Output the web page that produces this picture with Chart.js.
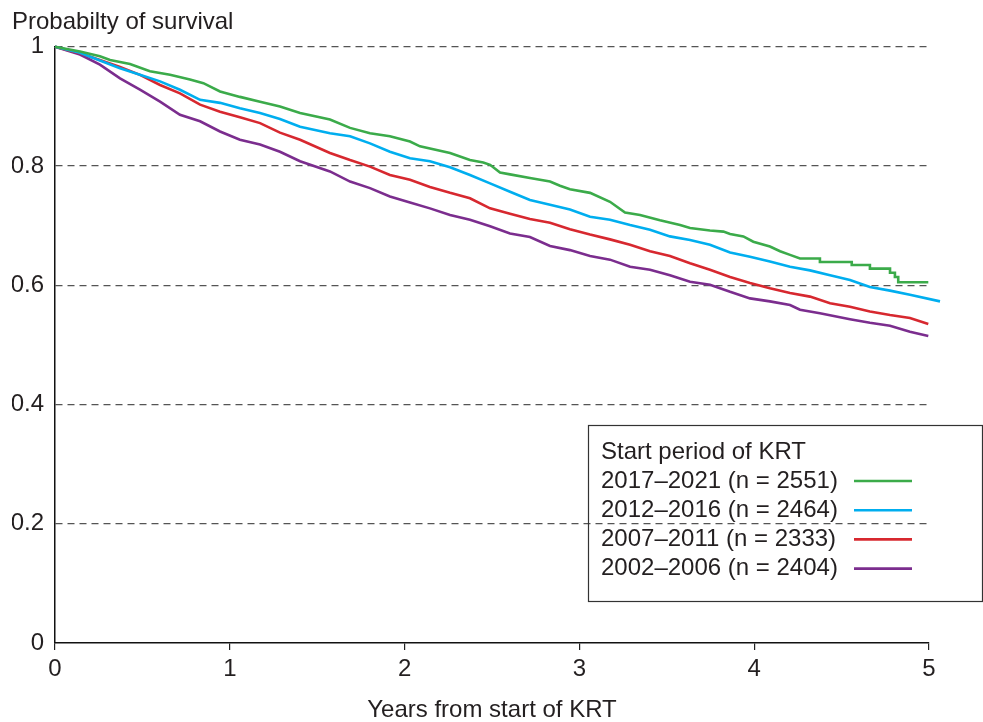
<!DOCTYPE html>
<html>
<head>
<meta charset="utf-8">
<script src="https://cdn.jsdelivr.net/npm/chart.js@4.4.1/dist/chart.umd.min.js"></script>
<style>
  html, body { margin: 0; padding: 0; background: #fff; }
  #wrap { width: 983px; height: 722px; position: relative; }
</style>
</head>
<body>
<div id="wrap"><canvas id="chartSurv"></canvas></div>
<script>
// Global settings
Chart.defaults.font.family = "'Liberation Sans', Arial, sans-serif";
Chart.defaults.color = '#231f20';
Chart.defaults.maintainAspectRatio = false;

// Kaplan-Meier estimates per period (years, survival)
const yrs2017 = [0, 0.143, 0.257, 0.315, 0.429, 0.543, 0.658, 0.772, 0.849, 0.944, 1.058, 1.173, 1.287, 1.402, 1.573, 1.688, 1.802, 1.916, 2.031, 2.088, 2.26, 2.374, 2.45, 2.489, 2.546, 2.603, 2.717, 2.832, 2.889, 2.946, 3.061, 3.175, 3.261, 3.347, 3.461, 3.576, 3.633, 3.747, 3.824, 3.862, 3.938, 3.995, 4.090, 4.148, 4.205, 4.262, 4.376, 4.376, 4.558, 4.558, 4.662, 4.662, 4.777, 4.777, 4.805, 4.805, 4.824, 4.824, 4.996];
const surv2017 = [1, 0.992, 0.984, 0.978, 0.971, 0.959, 0.953, 0.945, 0.939, 0.925, 0.916, 0.908, 0.900, 0.889, 0.878, 0.864, 0.855, 0.850, 0.841, 0.833, 0.822, 0.810, 0.806, 0.802, 0.789, 0.786, 0.780, 0.774, 0.767, 0.761, 0.755, 0.740, 0.722, 0.718, 0.709, 0.701, 0.696, 0.692, 0.690, 0.686, 0.682, 0.673, 0.665, 0.657, 0.651, 0.645, 0.645, 0.639, 0.639, 0.634, 0.634, 0.628, 0.628, 0.621, 0.621, 0.614, 0.614, 0.605, 0.605];

const yrs2012 = [0, 0.143, 0.257, 0.372, 0.486, 0.601, 0.715, 0.83, 0.944, 1.058, 1.173, 1.287, 1.402, 1.573, 1.688, 1.802, 1.916, 2.031, 2.145, 2.26, 2.374, 2.489, 2.603, 2.717, 2.832, 2.946, 3.061, 3.175, 3.290, 3.404, 3.518, 3.633, 3.747, 3.862, 3.976, 4.090, 4.205, 4.319, 4.434, 4.548, 4.662, 4.777, 4.891, 5.063];
const surv2012 = [1, 0.990, 0.977, 0.964, 0.953, 0.942, 0.928, 0.911, 0.906, 0.897, 0.889, 0.879, 0.866, 0.855, 0.850, 0.838, 0.824, 0.813, 0.808, 0.798, 0.785, 0.771, 0.757, 0.743, 0.735, 0.727, 0.715, 0.710, 0.701, 0.693, 0.682, 0.676, 0.668, 0.655, 0.648, 0.640, 0.631, 0.625, 0.617, 0.609, 0.597, 0.591, 0.584, 0.573];

const yrs2007 = [0, 0.143, 0.257, 0.372, 0.486, 0.601, 0.715, 0.83, 0.944, 1.058, 1.173, 1.287, 1.402, 1.573, 1.688, 1.802, 1.916, 2.031, 2.145, 2.26, 2.374, 2.489, 2.603, 2.717, 2.832, 2.946, 3.061, 3.175, 3.290, 3.404, 3.518, 3.633, 3.747, 3.862, 3.976, 4.090, 4.205, 4.319, 4.434, 4.548, 4.662, 4.777, 4.891, 4.996];
const surv2007 = [1, 0.989, 0.978, 0.966, 0.953, 0.936, 0.922, 0.903, 0.891, 0.882, 0.872, 0.856, 0.844, 0.822, 0.810, 0.799, 0.785, 0.777, 0.765, 0.755, 0.746, 0.729, 0.720, 0.711, 0.705, 0.694, 0.685, 0.677, 0.668, 0.657, 0.649, 0.637, 0.626, 0.614, 0.604, 0.595, 0.587, 0.581, 0.570, 0.564, 0.556, 0.550, 0.545, 0.535];

const yrs2002 = [0, 0.143, 0.257, 0.372, 0.486, 0.601, 0.715, 0.83, 0.944, 1.058, 1.173, 1.287, 1.402, 1.573, 1.688, 1.802, 1.916, 2.031, 2.145, 2.26, 2.374, 2.489, 2.603, 2.717, 2.832, 2.946, 3.061, 3.175, 3.290, 3.404, 3.518, 3.633, 3.747, 3.862, 3.976, 4.090, 4.205, 4.262, 4.376, 4.548, 4.662, 4.777, 4.891, 4.996];
const surv2002 = [1, 0.987, 0.970, 0.947, 0.928, 0.908, 0.886, 0.875, 0.858, 0.844, 0.836, 0.824, 0.808, 0.791, 0.774, 0.763, 0.749, 0.739, 0.729, 0.718, 0.710, 0.699, 0.687, 0.681, 0.666, 0.659, 0.649, 0.643, 0.631, 0.626, 0.617, 0.606, 0.601, 0.589, 0.578, 0.573, 0.567, 0.559, 0.553, 0.543, 0.537, 0.532, 0.522, 0.515];

const periodLabels = ['2017\u20132021 (n = 2551)', '2012\u20132016 (n = 2464)', '2007\u20132011 (n = 2333)', '2002\u20132006 (n = 2404)'];
const periodColors = ['#3bab4a', '#00aeef', '#d7282f', '#7b2d8e'];
const xTicks = [0, 1, 2, 3, 4, 5];
const yTicks = [0, 0.2, 0.4, 0.6, 0.8, 1];

const toPts = (xs, ys) => xs.map((x, i) => ({ x: x, y: ys[i] }));
const series = [
    toPts(yrs2017, surv2017),
    toPts(yrs2012, surv2012),
    toPts(yrs2007, surv2007),
    toPts(yrs2002, surv2002)
];

// legend box drawn inside the plot, line sample to the right of the text
const boxLegend = {
    id: 'boxLegend',
    afterDraw(chart, args, opts) {
        const ctx = chart.ctx;
        ctx.save();
        ctx.strokeStyle = '#333';
        ctx.lineWidth = 1.2;
        ctx.strokeRect(opts.x + 0.5, opts.y + 0.5, opts.w, opts.h);
        ctx.font = "24px 'Liberation Sans', Arial, sans-serif";
        ctx.fillStyle = '#231f20';
        ctx.textBaseline = 'middle';
        ctx.fillText(opts.title, opts.x + 13, opts.y + 27);
        chart.data.datasets.forEach((ds, i) => {
            const cy = opts.y + 56 + i * 29.2;
            ctx.fillStyle = '#231f20';
            ctx.fillText(ds.label, opts.x + 13, cy);
            ctx.strokeStyle = ds.borderColor;
            ctx.lineWidth = 2.6;
            ctx.beginPath();
            ctx.moveTo(opts.x + 266, cy);
            ctx.lineTo(opts.x + 324, cy);
            ctx.stroke();
        });
        ctx.restore();
    }
};

const chart = new Chart(document.getElementById('chartSurv').getContext('2d'), {
    type: 'line',
    data: {
        datasets: series.map((pts, i) => ({
            label: periodLabels[i],
            data: pts,
            borderColor: periodColors[i],
            borderWidth: 2.6,
            pointRadius: 0,
            tension: 0,
            clip: false
        }))
    },
    options: {
        responsive: true,
        animation: false,
        layout: { padding: { left: 12, right: 54, top: 0, bottom: 0 } },
        plugins: {
            legend: { display: false },
            tooltip: { enabled: false },
            title: {
                display: true,
                text: 'Probabilty of survival',
                align: 'start',
                color: '#231f20',
                font: { size: 24, weight: 'normal' },
                padding: { top: 8, bottom: 10 }
            },
            boxLegend: { x: 588, y: 425, w: 394, h: 176, title: 'Start period of KRT' }
        },
        scales: {
            x: {
                type: 'linear',
                min: 0,
                max: 5,
                afterBuildTicks: s => { s.ticks = xTicks.map(v => ({ value: v })); },
                afterFit: s => { s.height = 79; },
                ticks: { font: { size: 24 }, padding: 5, color: '#231f20' },
                grid: { drawOnChartArea: false, drawTicks: true, tickLength: 7, color: '#222', lineWidth: 1.2 },
                border: { display: true, color: '#111', width: 1.5 },
                title: {
                    display: true,
                    text: 'Years from start of KRT',
                    color: '#231f20',
                    font: { size: 24, lineHeight: 1.0 },
                    padding: { top: 0, bottom: 0 }
                }
            },
            y: {
                min: 0,
                max: 1,
                afterBuildTicks: s => { s.ticks = yTicks.map(v => ({ value: v })); },
                afterFit: s => { s.width = 43; },
                ticks: {
                    font: { size: 24 },
                    padding: 11,
                    color: '#231f20',
                    callback: v => String(Number(v.toFixed(1)))
                },
                grid: {
                    drawTicks: false,
                    lineWidth: 1.2,
                    color: ctx => (ctx.tick && ctx.tick.value === 0) ? 'rgba(0,0,0,0)' : '#555'
                },
                border: { display: true, color: '#111', width: 1.5, dash: [7, 5] }
            }
        }
    },
    plugins: [boxLegend]
});
</script>
</body>
</html>
